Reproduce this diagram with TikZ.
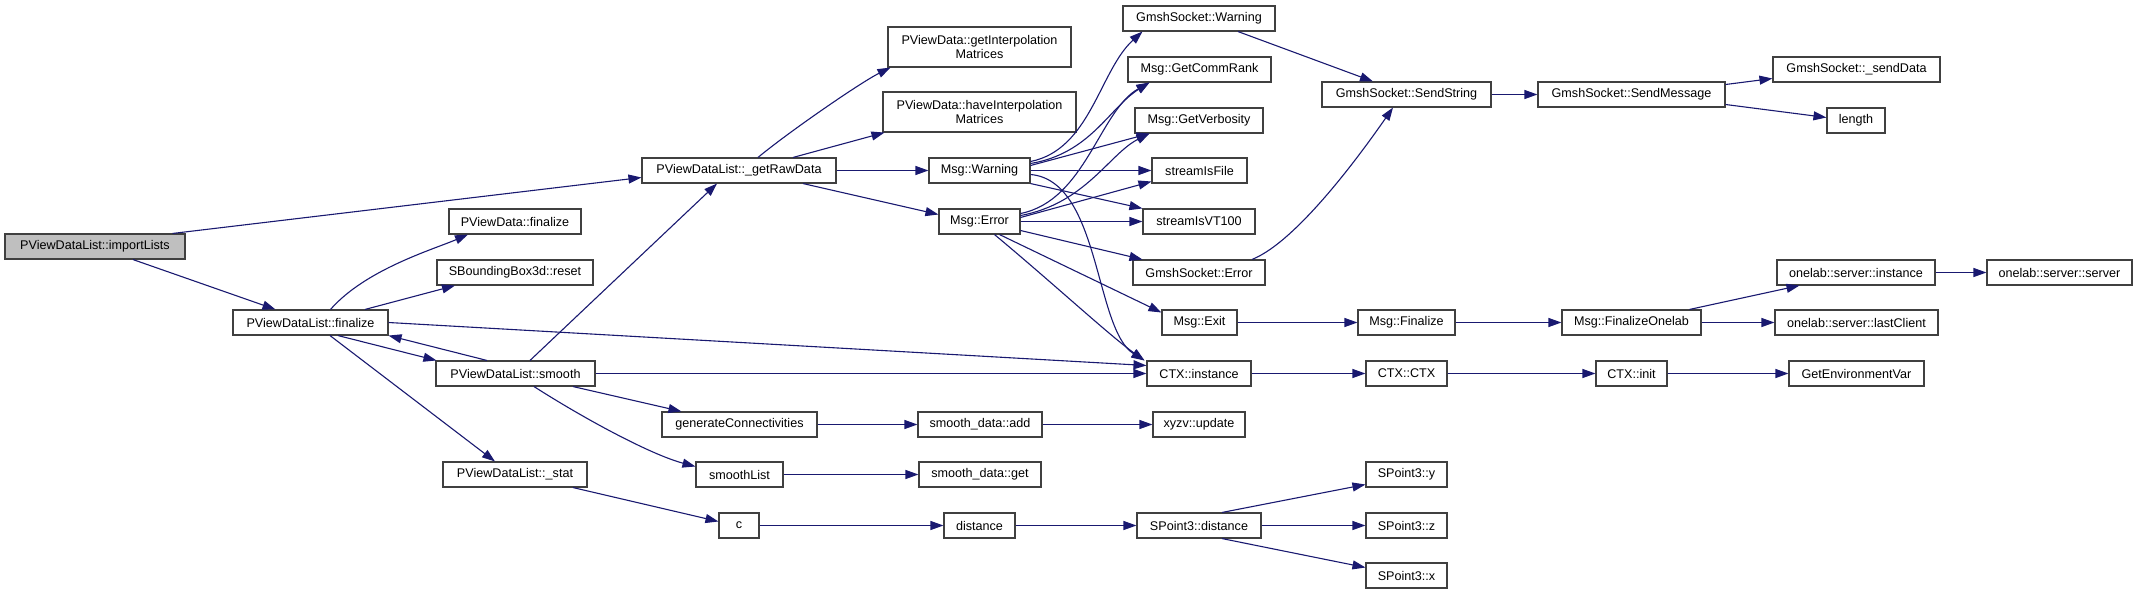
\documentclass[tikz,border=0pt]{standalone}
\usepackage{fontspec}
\setmainfont{Liberation Sans}
\usetikzlibrary{arrows.meta}
\definecolor{edgeblue}{HTML}{191970}
\definecolor{boxgray}{HTML}{404040}
\definecolor{rootgray}{HTML}{BFBFBF}

\begin{document}
\begin{tikzpicture}[
    x=1pt, y=-1pt,
    >={Triangle[length=13pt,width=9pt]},
    font=\fontsize{12.6}{14}\selectfont,
    fn/.style={draw=boxgray, fill=white, line width=1.1pt, minimum height=25pt, inner sep=2pt, align=center},
    root/.style={fn, fill=rootgray},
    call/.style={->, edgeblue, line width=1.1pt}
]
    \useasboundingbox (0,0) rectangle (2137,595);

    % Root function
    \node[root, minimum width=180pt] (imp) at (95,246.5) {PViewDataList::importLists};

    % Second column
    \node[fn, minimum width=155pt] (fin) at (310.5,322.5) {PViewDataList::finalize};

    % Third column
    \node[fn, minimum width=132pt] (pvfin) at (515,221.5) {PViewData::finalize};
    \node[fn, minimum width=156pt] (bbox) at (515,272.5) {SBoundingBox3d::reset};
    \node[fn, minimum width=159pt] (smooth) at (515.5,373.5) {PViewDataList::smooth};
    \node[fn, minimum width=144pt] (stat) at (515,474.5) {PViewDataList::\_stat};

    % Fourth column
    \node[fn, minimum width=194pt] (raw) at (739,170.5) {PViewDataList::\_getRawData};
    \node[fn, minimum width=155pt] (gencon) at (739.5,424.5) {generateConnectivities};
    \node[fn, minimum width=87pt] (slist) at (739.5,474.5) {smoothList};
    \node[fn, minimum width=40pt] (cfn) at (739,525.5) {c};

    % Fifth column
    \node[fn, minimum width=183pt, minimum height=40pt] (getint) at (979.5,47) {PViewData::getInterpolation\\Matrices};
    \node[fn, minimum width=193pt, minimum height=40pt] (haveint) at (979.5,112) {PViewData::haveInterpolation\\Matrices};
    \node[fn, minimum width=101pt] (mwarn) at (979.5,170.5) {Msg::Warning};
    \node[fn, minimum width=81pt] (merr) at (979.5,221.5) {Msg::Error};
    \node[fn, minimum width=124pt] (sadd) at (980,424.5) {smooth\_data::add};
    \node[fn, minimum width=122pt] (sget) at (980,474.5) {smooth\_data::get};
    \node[fn, minimum width=71pt] (dist) at (979.5,525.5) {distance};

    % Sixth column
    \node[fn, minimum width=152pt] (gwarn) at (1199,18.5) {GmshSocket::Warning};
    \node[fn, minimum width=143pt] (rank) at (1199.5,69.5) {Msg::GetCommRank};
    \node[fn, minimum width=128pt] (verb) at (1199,120.5) {Msg::GetVerbosity};
    \node[fn, minimum width=95pt] (sfile) at (1199.5,170.5) {streamIsFile};
    \node[fn, minimum width=112pt] (svt) at (1199,221.5) {streamIsVT100};
    \node[fn, minimum width=132pt] (gerr) at (1199,272.5) {GmshSocket::Error};
    \node[fn, minimum width=75pt] (mexit) at (1199.5,322.5) {Msg::Exit};
    \node[fn, minimum width=104pt] (ctxi) at (1199,373.5) {CTX::instance};
    \node[fn, minimum width=92pt] (xyzv) at (1199,424.5) {xyzv::update};
    \node[fn, minimum width=124pt] (spdist) at (1199,525.5) {SPoint3::distance};

    % Seventh column
    \node[fn, minimum width=169pt] (sstr) at (1406.5,94.5) {GmshSocket::SendString};
    \node[fn, minimum width=97pt] (mfin) at (1406.5,322.5) {Msg::Finalize};
    \node[fn, minimum width=81pt] (ctxc) at (1406.5,373.5) {CTX::CTX};
    \node[fn, minimum width=81pt] (spy) at (1406.5,474.5) {SPoint3::y};
    \node[fn, minimum width=81pt] (spz) at (1406.5,525.5) {SPoint3::z};
    \node[fn, minimum width=81pt] (spx) at (1406.5,575.5) {SPoint3::x};

    % Eighth column
    \node[fn, minimum width=187pt] (smsg) at (1631.5,94.5) {GmshSocket::SendMessage};
    \node[fn, minimum width=139pt] (fonelab) at (1631.5,322.5) {Msg::FinalizeOnelab};
    \node[fn, minimum width=71pt] (cinit) at (1631.5,373.5) {CTX::init};

    % Ninth and tenth columns
    \node[fn, minimum width=167pt] (sdata) at (1856.5,69.5) {GmshSocket::\_sendData};
    \node[fn, minimum width=58pt] (len) at (1856,120.5) {length};
    \node[fn, minimum width=158pt] (oinst) at (1856,272.5) {onelab::server::instance};
    \node[fn, minimum width=163pt] (olast) at (1856.5,322.5) {onelab::server::lastClient};
    \node[fn, minimum width=135pt] (genv) at (1856.5,373.5) {GetEnvironmentVar};
    \node[fn, minimum width=145pt] (oserv) at (2059.5,272.5) {onelab::server::server};

    % Calls from the root
    \draw[call] ([xshift=-13pt]imp.north east) -- ([yshift=-7pt]raw.west);
    \draw[call] ([xshift=38pt]imp.south) -- ([xshift=-35pt]fin.north);

    % Calls from PViewDataList::finalize
    \draw[call] ([xshift=20pt]fin.north) .. controls +(35,-40) and +(-35,15) .. ([xshift=-47pt]pvfin.south);
    \draw[call] ([xshift=54.5pt]fin.north) -- ([xshift=-60pt]bbox.south);
    \draw[call] (fin.east) -- ([yshift=8pt]ctxi.west);
    \draw[call] ([xshift=27.5pt]fin.south) -- ([xshift=1pt]smooth.north west);
    \draw[call] ([xshift=19.5pt]fin.south) -- ([xshift=-20pt]stat.north);

    % Calls from PViewDataList::smooth
    \draw[call] ([xshift=-28.5pt]smooth.north) -- (fin.south east);
    \draw[call] ([xshift=14.5pt]smooth.north) -- ([xshift=-22pt]raw.south);
    \draw[call] (smooth.east) -- (ctxi.west);
    \draw[call] ([xshift=57.5pt]smooth.south) -- ([xshift=20pt]gencon.north west);
    \draw[call] ([xshift=18.5pt]smooth.south) .. controls +(50,32) and +(-45,-12) .. ([yshift=8pt]slist.west);
    \draw[call] ([xshift=58pt]stat.south) -- ([yshift=4pt]cfn.west);

    % Calls from PViewDataList::_getRawData
    \draw[call] ([xshift=19pt]raw.north) .. controls +(30,-25) and +(-30,15) .. ([xshift=3pt]getint.south west);
    \draw[call] ([xshift=54pt]raw.north) -- ([xshift=2pt]haveint.south west);
    \draw[call] (raw.east) -- (mwarn.west);
    \draw[call] ([xshift=64pt]raw.south) -- ([yshift=7pt]merr.west);

    % Calls from Msg::Warning
    \draw[call] ([yshift=9pt]mwarn.east) .. controls +(60,-12) and +(-43,39) .. ([xshift=20pt]gwarn.south west);
    \draw[call] ([yshift=7pt]mwarn.east) .. controls +(60,-10) and +(-40,25) .. ([xshift=22pt]rank.south west);
    \draw[call] ([yshift=5pt]mwarn.east) -- ([xshift=15pt]verb.south west);
    \draw[call] (mwarn.east) -- (sfile.west);
    \draw[call] (mwarn.south east) -- (svt.north west);
    \draw[call] ([yshift=-4pt]mwarn.east) .. controls +(70,6) and +(-50,-31) .. ([xshift=-2pt]ctxi.north west);

    % Calls from Msg::Error
    \draw[call] ([yshift=8pt]merr.east) .. controls +(65,-13) and +(-50,28) .. ([xshift=22pt]rank.south west);
    \draw[call] ([yshift=6pt]merr.east) .. controls +(65,-12) and +(-40,20) .. ([xshift=15pt]verb.south west);
    \draw[call] ([yshift=4pt]merr.east) -- ([yshift=-11pt]sfile.west);
    \draw[call] (merr.east) -- (svt.west);
    \draw[call] ([yshift=-9pt]merr.east) -- ([xshift=10pt]gerr.north west);
    \draw[call] ([xshift=20pt]merr.south) -- ([yshift=10pt]mexit.west);
    \draw[call] ([xshift=15pt]merr.south) .. controls +(60,50) and +(-35,-25) .. ([xshift=-2pt]ctxi.north west);

    % GmshSocket calls
    \draw[call] ([xshift=39pt]gwarn.south) -- ([xshift=-33.5pt]sstr.north);
    \draw[call] ([xshift=53pt]gerr.north) .. controls +(48,-19) and +(-23,33) .. ([xshift=-13.5pt]sstr.south);
    \draw[call] (sstr) -- (smsg);
    \draw[call] ([yshift=10pt]smsg.east) -- ([yshift=-9pt]sdata.west);
    \draw[call] ([yshift=-10pt]smsg.east) -- ([yshift=3pt]len.west);

    % Msg::Exit chain
    \draw[call] (mexit) -- (mfin);
    \draw[call] (mfin) -- (fonelab);
    \draw[call] ([xshift=58pt]fonelab.north) -- ([xshift=23pt]oinst.south west);
    \draw[call] (fonelab) -- (olast);
    \draw[call] (oinst) -- (oserv);

    % CTX chain
    \draw[call] (ctxi) -- (ctxc);
    \draw[call] (ctxc) -- (cinit);
    \draw[call] (cinit) -- (genv);

    % Smoothing helpers
    \draw[call] (gencon) -- (sadd);
    \draw[call] (sadd) -- (xyzv);
    \draw[call] (slist) -- (sget);

    % Distance chain
    \draw[call] (cfn) -- (dist);
    \draw[call] (dist) -- (spdist);
    \draw[call] ([xshift=23pt]spdist.north) -- ([yshift=-10pt]spy.west);
    \draw[call] (spdist) -- (spz);
    \draw[call] ([xshift=23pt]spdist.south) -- ([yshift=8pt]spx.west);

\end{tikzpicture}
\end{document}
